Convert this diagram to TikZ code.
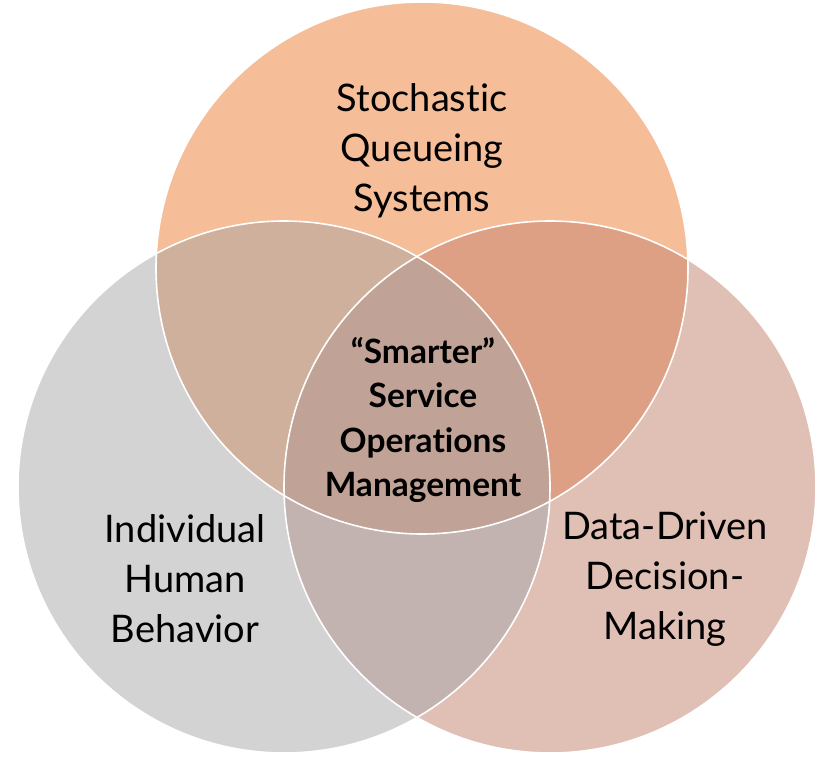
\documentclass[tikz,border=0pt]{standalone}
\usepackage{fontspec}
\setmainfont{Lato}[Ligatures={NoCommon}]
\definecolor{cTop}{HTML}{F5BD98}
\definecolor{cLeft}{HTML}{D3D3D3}
\definecolor{cRight}{HTML}{E0BFB5}
\definecolor{cTL}{HTML}{CFB09D}
\definecolor{cTR}{HTML}{DEA084}
\definecolor{cLR}{HTML}{C3B3B0}
\definecolor{cMid}{HTML}{C0A396}
\tikzset{
  ring/.style={draw=white, line width=1.6pt},
  lbl/.style={align=center, font=\fontsize{38}{50}\selectfont, text=black},
  midlbl/.style={align=center, font=\fontsize{33.5}{44.6}\selectfont\bfseries, text=black}
}
\begin{document}
\begin{tikzpicture}[x=1pt,y=-1pt]
\useasboundingbox (0,0) rectangle (830,760);
\def\R{266}
\coordinate (T) at (422,268);
\coordinate (L) at (284,487);
\coordinate (Rt) at (550,487);
% base fills
\fill[cTop] (T) circle (\R);
\fill[cLeft] (L) circle (\R);
\fill[cRight] (Rt) circle (\R);
% pairwise overlaps
\begin{scope}
  \clip (T) circle (\R);
  \fill[cTL] (L) circle (\R);
\end{scope}
\begin{scope}
  \clip (T) circle (\R);
  \fill[cTR] (Rt) circle (\R);
\end{scope}
\begin{scope}
  \clip (L) circle (\R);
  \fill[cLR] (Rt) circle (\R);
\end{scope}
% triple overlap
\begin{scope}
  \clip (T) circle (\R);
  \clip (L) circle (\R);
  \fill[cMid] (Rt) circle (\R);
\end{scope}
% outlines
\draw[ring] (T) circle (\R);
\draw[ring] (L) circle (\R);
\draw[ring] (Rt) circle (\R);
% labels
\node[lbl] (top) at (422,151) {Stochastic\\Queueing\\Systems};
\node[lbl] (left) at (185,579) {Individual\\Human\\Behavior};
\node[lbl] (right) at (665,579) {Data-Driven\\Decision-\\Making};
\node[midlbl] (mid) at (423,420) {“Smarter”\\Service\\Operations\\Management};
\end{tikzpicture}
\end{document}
